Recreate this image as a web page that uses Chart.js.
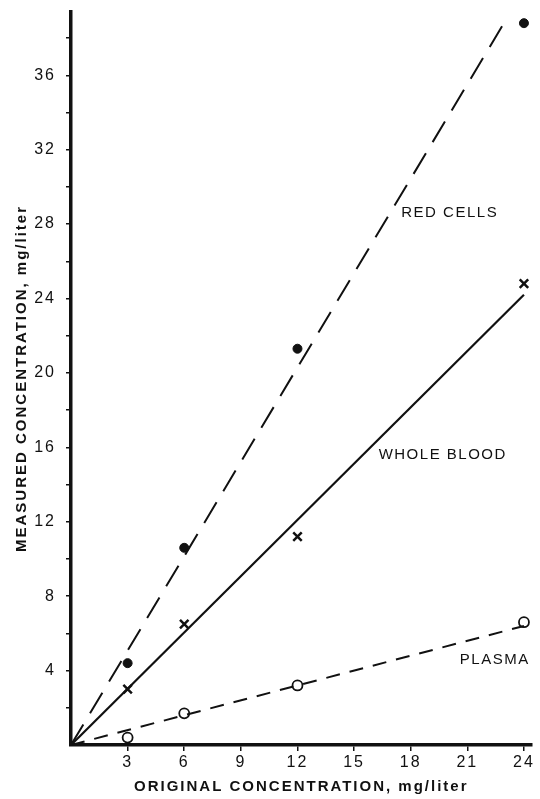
<!DOCTYPE html>
<html>
<head>
<meta charset="utf-8">
<script src="https://cdn.jsdelivr.net/npm/chart.js@4/dist/chart.umd.min.js"></script>
<style>
  html, body { margin: 0; padding: 0; background: #fff; }
  #wrap { width: 540px; height: 799px; }
</style>
</head>
<body>
<div id="wrap"><canvas id="myChart" width="540" height="799"></canvas></div>
<script>
// original concentration, mg/liter
const concentrations = [3, 6, 12, 24];

const redCells = [4.4, 10.6, 21.3, 38.8];
const wholeBlood = [3.0, 6.5, 11.2, 24.8];
const plasma = [0.4, 1.7, 3.2, 6.6];

// fitted lines (start, end)
const redCellsFitX = [0, 23];
const redCellsFitY = [0, 38.9];
const wholeBloodFitX = [0, 24];
const wholeBloodFitY = [0, 24.2];
const plasmaFitX = [0, 24];
const plasmaFitY = [0, 6.4];

const xTicks = [3, 6, 9, 12, 15, 18, 21, 24];
const yTicks = [2, 4, 6, 8, 10, 12, 14, 16, 18, 20, 22, 24, 26, 28, 30, 32, 34, 36, 38];
const yLabels = [4, 8, 12, 16, 20, 24, 28, 32, 36];

const toPoints = (xs, ys) => xs.map((x, i) => ({ x: x, y: ys[i] }));

const INK = "#111";
const FONT = "'Liberation Sans', Arial, sans-serif";

// line labels placed in data coordinates
const lineLabels = [
  { text: "RED CELLS", x: 17.5, y: 28.6 },
  { text: "WHOLE BLOOD", x: 16.3, y: 15.6 },
  { text: "PLASMA", x: 20.6, y: 4.6 },
];

const pluginLineLabels = {
  id: "lineLabels",
  afterDatasetsDraw(chart) {
    const { ctx, scales } = chart;
    ctx.save();
    ctx.letterSpacing = "1.5px";
    ctx.fillStyle = INK;
    ctx.font = "15px " + FONT;
    ctx.textBaseline = "middle";
    ctx.textAlign = "left";
    lineLabels.forEach((l) => {
      ctx.fillText(l.text, scales.x.getPixelForValue(l.x), scales.y.getPixelForValue(l.y));
    });
    ctx.restore();
  },
};

// wide letter spacing for the axis text
const pluginLetterSpacing = {
  id: "letterSpacing",
  beforeDraw(chart) {
    chart.ctx.letterSpacing = "2px";
  },
};

const chartContext = document.getElementById("myChart").getContext("2d");

const chart = new Chart(chartContext, {
  type: "scatter",
  data: {
    datasets: [
      {
        label: "Red cells fit",
        type: "line",
        data: toPoints(redCellsFitX, redCellsFitY),
        borderColor: INK,
        borderWidth: 2,
        borderDash: [24, 13],
        pointRadius: 0,
      },
      {
        label: "Whole blood fit",
        type: "line",
        data: toPoints(wholeBloodFitX, wholeBloodFitY),
        borderColor: INK,
        borderWidth: 2.2,
        pointRadius: 0,
      },
      {
        label: "Plasma fit",
        type: "line",
        data: toPoints(plasmaFitX, plasmaFitY),
        borderColor: INK,
        borderWidth: 2,
        borderDash: [14, 10],
        pointRadius: 0,
      },
      {
        label: "Red cells",
        data: toPoints(concentrations, redCells),
        pointStyle: "circle",
        pointRadius: 4.5,
        backgroundColor: INK,
        borderColor: INK,
      },
      {
        label: "Whole blood",
        data: toPoints(concentrations, wholeBlood),
        pointStyle: "crossRot",
        pointRadius: 6,
        borderWidth: 2.5,
        borderColor: INK,
      },
      {
        label: "Plasma",
        data: toPoints(concentrations, plasma),
        pointStyle: "circle",
        pointRadius: 5,
        borderWidth: 1.8,
        backgroundColor: "#fff",
        borderColor: INK,
      },
      {
        label: "Plasma centre",
        data: toPoints(concentrations, plasma),
        pointStyle: "circle",
        pointRadius: 1.5,
        backgroundColor: INK,
        borderColor: INK,
      },
    ],
  },
  options: {
    responsive: false,
    animation: false,
    layout: { padding: { top: 12, right: 5, left: 0, bottom: 0 } },
    plugins: {
      legend: { display: false },
      tooltip: { enabled: false },
    },
    scales: {
      x: {
        type: "linear",
        min: 0,
        max: 24.4,
        afterBuildTicks: (scale) => {
          scale.ticks = xTicks.map((v) => ({ value: v }));
        },
        afterFit: (scale) => {
          scale.height = 54;
          scale.paddingLeft = 0;
          scale.paddingRight = 0;
        },
        grid: { display: true, drawOnChartArea: false, drawTicks: true, tickLength: 6, color: INK, lineWidth: 1.5 },
        border: { display: true, color: INK, width: 3.5 },
        ticks: {
          color: INK,
          font: { size: 16, family: FONT },
          padding: 2,
          maxRotation: 0,
        },
        title: {
          display: true,
          text: "ORIGINAL CONCENTRATION, mg/liter",
          color: INK,
          font: { size: 15, weight: "bold", family: FONT },
          padding: { top: 0, bottom: 3 },
        },
      },
      y: {
        type: "linear",
        min: 0,
        max: 39.4,
        afterBuildTicks: (scale) => {
          scale.ticks = yTicks.map((v) => ({ value: v }));
        },
        afterFit: (scale) => {
          scale.width = 71;
          scale.paddingTop = 0;
          scale.paddingBottom = 0;
        },
        grid: { display: true, drawOnChartArea: false, drawTicks: true, tickLength: 5, color: INK, lineWidth: 1.5 },
        border: { display: true, color: INK, width: 3.5 },
        ticks: {
          color: INK,
          font: { size: 16, family: FONT },
          padding: 10,
          autoSkip: false,
          callback: (v) => (yLabels.includes(v) ? String(v) : ""),
        },
        title: {
          display: true,
          text: "MEASURED CONCENTRATION, mg/liter",
          color: INK,
          font: { size: 15, weight: "bold", family: FONT },
          padding: { top: 13, bottom: 0 },
        },
      },
    },
  },
  plugins: [pluginLetterSpacing, pluginLineLabels],
});
</script>
</body>
</html>
